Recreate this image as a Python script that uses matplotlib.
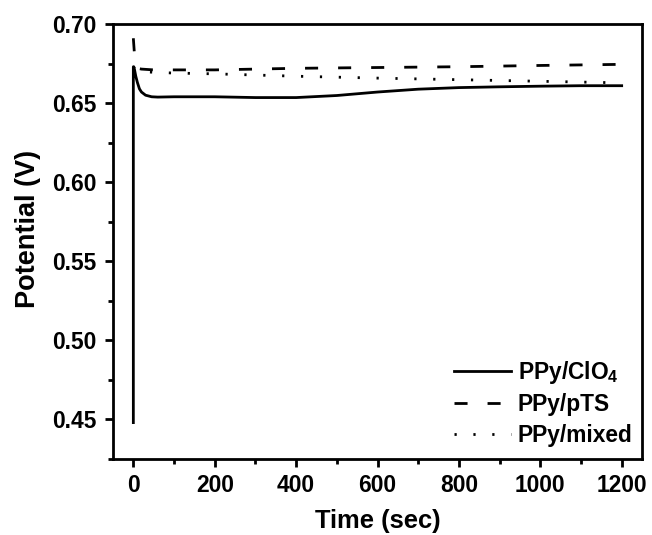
import matplotlib
matplotlib.use('Agg')
import matplotlib.pyplot as plt
from matplotlib.ticker import MultipleLocator

plt.rcParams['font.family'] = ['Liberation Sans', 'DejaVu Sans']
plt.rcParams['font.weight'] = 'bold'
plt.rcParams['mathtext.fontset'] = 'custom'
plt.rcParams['mathtext.rm'] = 'Liberation Sans:bold'
plt.rcParams['mathtext.default'] = 'rm'

# PPy/ClO4 (solid)
tClo4 = [0, 0.01, 1, 3, 6, 10, 15, 20, 30, 45, 60, 100, 200, 300, 400, 500, 600, 700, 800, 900, 1000, 1100, 1200]
vClo4 = [0.448, 0.673, 0.673, 0.671, 0.667, 0.663, 0.659, 0.657, 0.655, 0.654, 0.6538, 0.654, 0.654, 0.6535, 0.6535,
         0.6548, 0.657, 0.6588, 0.6598, 0.6603, 0.6607, 0.661, 0.661]

# PPy/pTS (dashed)
tPts = [0, 3, 6, 10, 20, 50, 100, 200, 400, 600, 800, 1000, 1200]
vPts = [0.691, 0.680, 0.674, 0.672, 0.6715, 0.671, 0.671, 0.671, 0.672, 0.6725, 0.673, 0.6738, 0.6745]

# PPy/mixed (dotted)
tMix = [0, 5, 10, 50, 100, 200, 400, 600, 800, 1000, 1200]
vMix = [0.673, 0.671, 0.670, 0.6695, 0.669, 0.6685, 0.667, 0.6658, 0.6648, 0.6638, 0.6628]

labels = ['PPy/ClO$_4$', 'PPy/pTS', 'PPy/mixed']

fig = plt.figure(figsize=(6.52, 5.35), dpi=100)
ax = fig.add_axes([0.1733, 0.1421, 0.8114, 0.8130])

lw = 2.0
ax.plot(tClo4, vClo4, color='black', lw=lw, linestyle='-', label=labels[0])
ax.plot(tPts, vPts, color='black', lw=lw, dashes=(9.4 / lw, 14.4 / lw), label=labels[1])
ax.plot(tMix, vMix, color='black', lw=lw, dashes=(1.6 / lw, 12.0 / lw), label=labels[2])

ax.set_xlim(-50, 1250)
ax.set_ylim(0.425, 0.70)
ax.xaxis.set_major_locator(MultipleLocator(200))
ax.xaxis.set_minor_locator(MultipleLocator(100))
ax.yaxis.set_major_locator(MultipleLocator(0.05))
ax.yaxis.set_minor_locator(MultipleLocator(0.025))
ax.yaxis.set_major_formatter(matplotlib.ticker.FormatStrFormatter('%.2f'))

for s in ax.spines.values():
    s.set_linewidth(2.0)
ax.tick_params(which='major', direction='out', length=5.5, width=2.0, labelsize=16.4)
ax.tick_params(axis='x', which='major', pad=5)
ax.tick_params(axis='y', which='major', pad=6.5)
ax.tick_params(which='minor', direction='out', length=3.5, width=2.0)
ax.tick_params(top=False, right=False, which='both')

ax.set_xlabel('Time (sec)', fontsize=18.4, fontweight='bold', labelpad=9)
ax.set_ylabel('Potential (V)', fontsize=19.5, fontweight='bold')
ax.yaxis.set_label_coords(-0.137, 0.529)

leg = ax.legend(loc='lower right', frameon=False, fontsize=16.4, handlelength=2.5,
                handletextpad=0.3, labelspacing=0.33, borderaxespad=0.02,
                bbox_to_anchor=(1.0, 0.006))

fig.savefig('out.png', dpi=100)
